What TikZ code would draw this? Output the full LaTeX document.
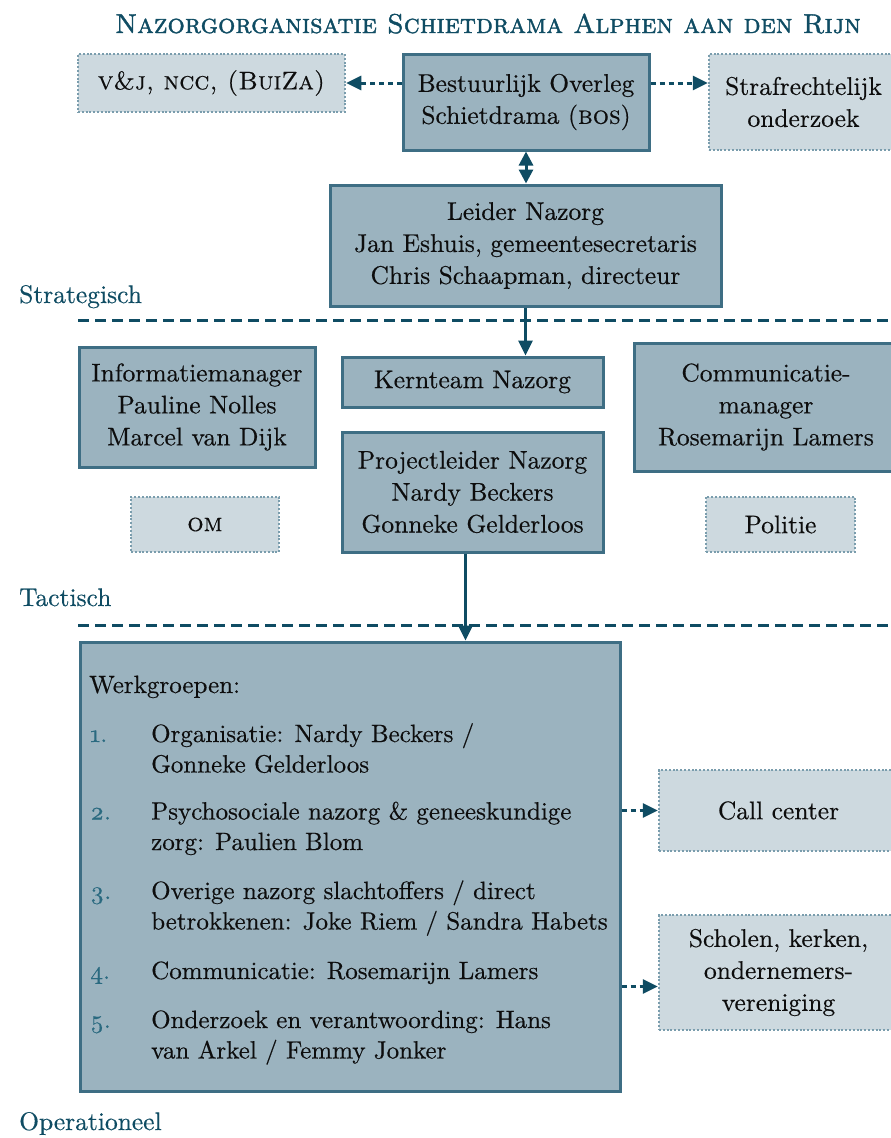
\documentclass[tikz,border=0pt]{standalone}
\usepackage{fontspec}
\setmainfont{lmroman10-regular.otf}[
  FakeBold=0.4,
  SmallCapsFont=lmromancaps10-regular.otf,
  SmallCapsFeatures={FakeBold=0.4},
  ItalicFont=lmroman10-italic.otf,
  BoldFont=lmroman10-bold.otf]
\newfontfamily\titlefont{lmromancaps10-regular.otf}[FakeBold=1.4]
\usetikzlibrary{arrows.meta,calc}
\definecolor{tealdark}{HTML}{0F4C63}
\definecolor{boxfill}{HTML}{9BB3BF}
\definecolor{boxline}{HTML}{3E6E84}
\definecolor{dotfill}{HTML}{CDD9DF}
\definecolor{dotline}{HTML}{7A9DAD}
\definecolor{numcol}{HTML}{2A6A80}
\newcommand{\fsz}{\fontsize{25.5}{32}\selectfont}
\newcommand{\fszlist}{\fontsize{25}{31}\selectfont}
\begin{document}
\begin{tikzpicture}[x=1pt,y=-1pt,
  every node/.style={font=\fsz, text=black!95},
  solidbox/.style={draw=boxline, line width=3pt, fill=boxfill, inner sep=0pt, align=center},
  dotbox/.style={draw=dotline, line width=2.5pt, dash pattern=on 2pt off 1.8pt, fill=dotfill, inner sep=0pt, align=center},
  arr/.style={draw=tealdark, line width=3pt, -{Triangle[length=15pt,width=14pt]}},
  dblarr/.style={draw=tealdark, line width=3pt, {Triangle[length=14pt,width=14pt]}-{Triangle[length=14pt,width=14pt]}},
  dotarr/.style={draw=tealdark, line width=3pt, dash pattern=on 5pt off 4pt, -{Triangle[length=15pt,width=14pt]}},
  levelline/.style={draw=tealdark, line width=3pt, dash pattern=on 11pt off 6pt},
  levellabel/.style={anchor=base west, inner sep=0pt, text=tealdark},
  itemtext/.style={anchor=base west, inner sep=0pt, font=\fszlist},
  itemnum/.style={anchor=base west, inner sep=0pt, font=\fszlist, text=numcol}
]
\useasboundingbox (0,0) rectangle (891,1138);
\begin{scope}
\clip (0,0) rectangle (891,1138);

% title
\node[anchor=base, text=tealdark, font=\fontsize{27.2}{32}\selectfont\titlefont] (title) at (488,33)
  {Nazorgorganisatie Schietdrama Alphen aan den Rijn};

% strategic level
\node[dotbox, minimum width=267pt, minimum height=58pt] (vj) at (211.5,83) {\textsc{v\&j, ncc, (BuiZa)}};
\node[solidbox, minimum width=246pt, minimum height=96pt] (bos) at (526,102) {Bestuurlijk Overleg\\Schietdrama (\textsc{bos})};
\node[dotbox, minimum width=189pt, minimum height=96pt] (straf) at (803.5,102) {Strafrechtelijk\\onderzoek};
\node[solidbox, minimum width=391pt, minimum height=121pt] (leider) at (525.5,245.5)
  {Leider Nazorg\\Jan Eshuis, gemeentesecretaris\\Chris Schaapman, directeur};

\draw[dotarr] (bos.west |- vj.east) -- (vj.east);
\draw[dotarr] (bos.east |- vj.east) -- (straf.west |- vj.east);
\draw[dblarr] (bos.south) -- (bos.south |- leider.north);

\node[levellabel] (strat) at (19,303) {Strategisch};
\coordinate (l1a) at (78,320);
\coordinate (l1b) at (891,320);
\draw[levelline] (l1a) -- (l1b);

% tactical level
\node[solidbox, minimum width=236pt, minimum height=120pt] (info) at (197,407)
  {Informatiemanager\\Pauline Nolles\\Marcel van Dijk};
\node[solidbox, minimum width=261pt, minimum height=50pt] (kern) at (472.5,382) {Kernteam Nazorg};
\node[solidbox, minimum width=264pt, minimum height=128pt] (comm) at (766,407)
  {Communicatie-\\manager\\Rosemarijn Lamers};
\node[solidbox, minimum width=261pt, minimum height=120pt] (proj) at (472.5,492)
  {Projectleider Nazorg\\Nardy Beckers\\Gonneke Gelderloos};
\node[dotbox, minimum width=148pt, minimum height=55pt] (om) at (205,524.5) {\textsc{om}};
\node[dotbox, minimum width=149pt, minimum height=55pt] (pol) at (780.5,524.5) {Politie};

\draw[arr] (leider.south) -- (leider.south |- kern.north);

\node[levellabel] (tact) at (19,606) {Tactisch};
\coordinate (l2a) at (78,625);
\coordinate (l2b) at (891,625);
\draw[levelline] (l2a) -- (l2b);

% operational level
\node[solidbox, minimum width=540pt, minimum height=449pt] (werk) at (350,866.5) {};
\coordinate (projout) at ([xshift=-7pt]proj.south);
\draw[arr] (projout) -- (projout |- werk.north);

\node[itemtext] (wg) at (89,693) {Werkgroepen:};
\node[itemnum] (n1) at (90,742) {\oldstylenums{1}.};
\node[itemtext] (t1a) at (151,742) {Organisatie: Nardy Beckers /};
\node[itemtext] (t1b) at (151,772.5) {Gonneke Gelderloos};
\node[itemnum] (n2) at (90,819.5) {\oldstylenums{2}.};
\node[itemtext] (t2a) at (151,819.5) {Psychosociale nazorg \& geneeskundige};
\node[itemtext] (t2b) at (151,850) {zorg: Paulien Blom};
\node[itemnum] (n3) at (90,899) {\oldstylenums{3}.};
\node[itemtext] (t3a) at (151,899) {Overige nazorg slachtoffers / direct};
\node[itemtext] (t3b) at (151,929.5) {betrokkenen: Joke Riem / Sandra Habets};
\node[itemnum] (n4) at (90,979) {\oldstylenums{4}.};
\node[itemtext] (t4a) at (151,979) {Communicatie: Rosemarijn Lamers};
\node[itemnum] (n5) at (90,1028) {\oldstylenums{5}.};
\node[itemtext] (t5a) at (151,1028) {Onderzoek en verantwoording: Hans};
\node[itemtext] (t5b) at (151,1058.5) {van Arkel / Femmy Jonker};

\node[dotbox, minimum width=239pt, minimum height=81pt] (call) at (778.5,810.5) {Call center};
\node[dotbox, minimum width=239pt, minimum height=115pt] (schol) at (778.5,972.5)
  {Scholen, kerken,\\ondernemers-\\vereniging};
\coordinate (scholin) at ([yshift=-14pt]schol.west);

\draw[dotarr] (werk.east |- call.west) -- (call.west);
\draw[dotarr] (werk.east |- scholin) -- (scholin);

\node[levellabel] (oper) at (19,1130) {Operationeel};
\end{scope}
\end{tikzpicture}
\end{document}
